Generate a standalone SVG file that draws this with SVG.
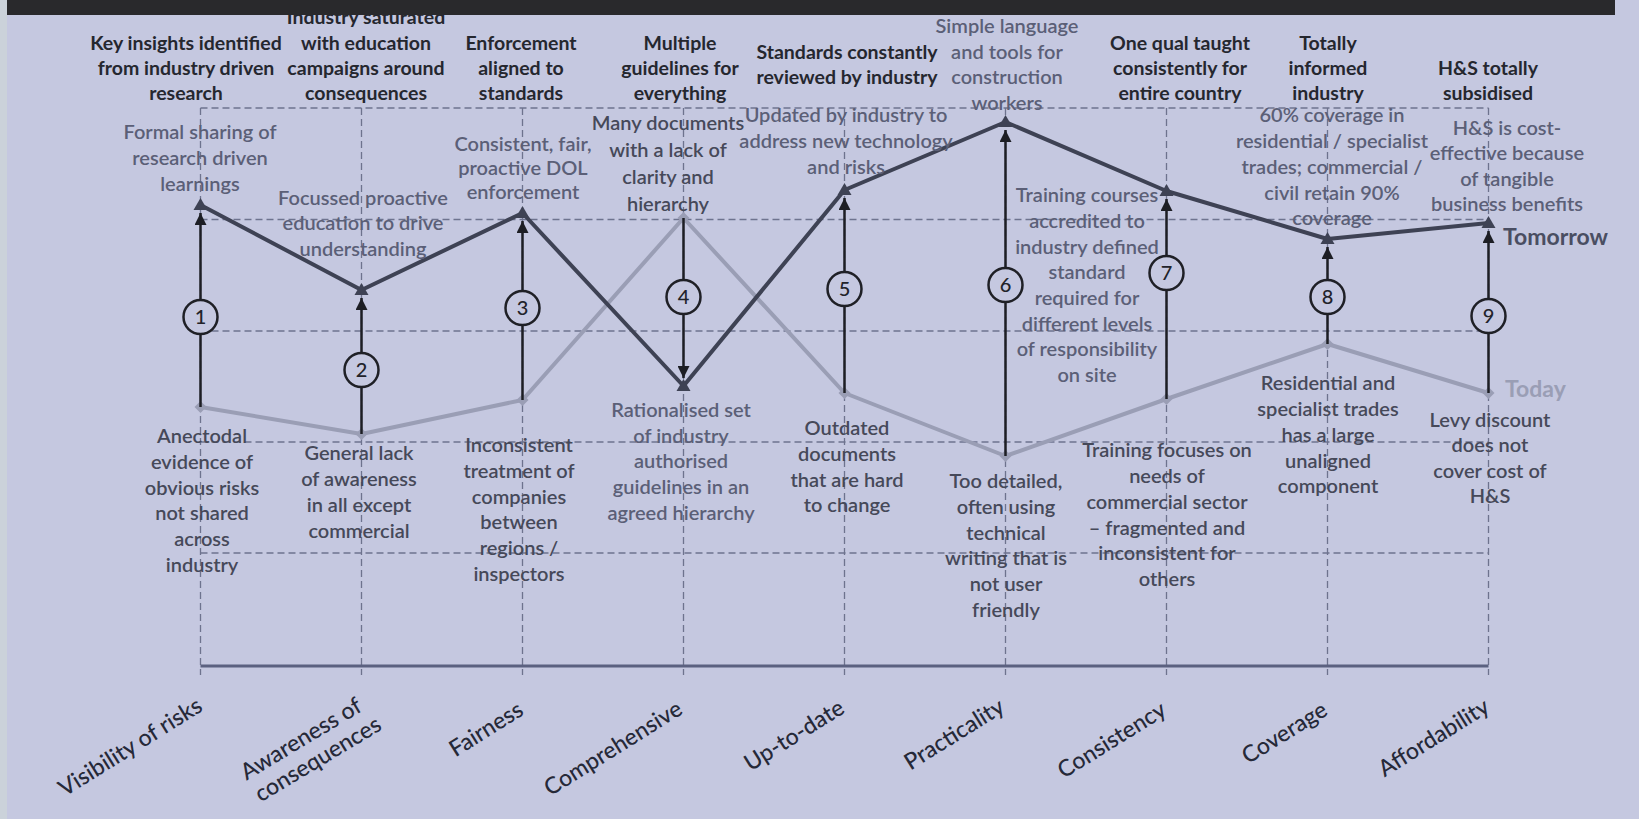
<svg xmlns="http://www.w3.org/2000/svg" width="1639" height="819" viewBox="0 0 1639 819">
<style>
text{font-family:Lato,"Noto Sans","Liberation Sans",sans-serif;text-anchor:middle}
.top{font-size:19.5px;font-weight:700;fill:#25272f}
.tm{font-size:20px;font-weight:600;fill:#5b5f77}
.td{font-size:20px;font-weight:600;fill:#464959}
.ax{font-size:23px;font-weight:500;fill:#262938;text-anchor:end}
.num{font-size:20px;font-weight:500;fill:#22232a}
.grid{stroke:#6e738e;stroke-width:1.3;stroke-dasharray:7 4;fill:none}
.today{stroke:#9a9eb5;stroke-width:4;fill:none;stroke-linejoin:round}
.tomorrow{stroke:#3e4254;stroke-width:4;fill:none;stroke-linejoin:round}
.arrow{stroke:#1d1e24;stroke-width:2.5;fill:none}
.circ{fill:#c5c8e0;stroke:#1f2026;stroke-width:2.5}
</style>
<defs>
<marker id="ah" markerUnits="userSpaceOnUse" markerWidth="12" markerHeight="12" viewBox="0 0 12 12" refX="12" refY="6" orient="auto"><path d="M0,0 L12,6 L0,12 z" fill="#1d1e24"/></marker>
<marker id="tri" markerUnits="userSpaceOnUse" markerWidth="16" markerHeight="16" viewBox="-8 -8 16 16" refX="0" refY="0" orient="0"><path d="M0,-7 L7,5 L-7,5 z" fill="#3e4254"/></marker>
<marker id="dia" markerUnits="userSpaceOnUse" markerWidth="14" markerHeight="14" viewBox="-7 -7 14 14" refX="0" refY="0" orient="0"><path d="M0,-6 L6,0 L0,6 L-6,0 z" fill="#9a9eb5"/></marker>
</defs>
<rect width="1639" height="819" fill="#c5c8e0"/>
<rect width="7" height="819" fill="#cbd2da"/>

<g id="grid">
<path class="grid" d="M200.5,108H1488.5M200.5,219.5H1488.5M200.5,331H1488.5M200.5,442H1488.5M200.5,553H1488.5"/>
<path class="grid" d="M200.5,108V675M361.5,108V675M522.5,108V675M683.5,108V675M844.5,108V675M1005.5,108V675M1166.5,108V675M1327.5,108V675M1488.5,108V675"/>
<line x1="200.5" y1="666" x2="1488.5" y2="666" stroke="#5b6180" stroke-width="3"/>
</g>

<g id="connectors">
<polyline class="today" marker-start="url(#dia)" marker-mid="url(#dia)" marker-end="url(#dia)" points="200.5,407 361.5,434 522.5,400 683.5,218 844.5,393 1005.5,456 1166.5,399 1327.5,344 1488.5,393"/>
<polyline class="tomorrow" points="200.5,205 361.5,290 522.5,213 683.5,386 844.5,190 1005.5,122 1166.5,191 1327.5,239 1488.5,223"/>
<line class="arrow" marker-end="url(#ah)" x1="200.5" y1="407" x2="200.5" y2="213"/>
<line class="arrow" marker-end="url(#ah)" x1="361.5" y1="434" x2="361.5" y2="298"/>
<line class="arrow" marker-end="url(#ah)" x1="522.5" y1="400" x2="522.5" y2="221"/>
<line class="arrow" marker-end="url(#ah)" x1="683.5" y1="218" x2="683.5" y2="378"/>
<line class="arrow" marker-end="url(#ah)" x1="844.5" y1="393" x2="844.5" y2="198"/>
<line class="arrow" marker-end="url(#ah)" x1="1005.5" y1="456" x2="1005.5" y2="130"/>
<line class="arrow" marker-end="url(#ah)" x1="1166.5" y1="399" x2="1166.5" y2="199"/>
<line class="arrow" marker-end="url(#ah)" x1="1327.5" y1="344" x2="1327.5" y2="247"/>
<line class="arrow" marker-end="url(#ah)" x1="1488.5" y1="393" x2="1488.5" y2="231"/>
<polyline fill="none" stroke="none" marker-start="url(#tri)" marker-mid="url(#tri)" marker-end="url(#tri)" points="200.5,205 361.5,290 522.5,213 683.5,386 844.5,190 1005.5,122 1166.5,191 1327.5,239 1488.5,223"/>
</g>

<g id="col1">
<text class="top"><tspan x="186" y="50">Key insights identified</tspan><tspan x="186" y="75">from industry driven</tspan><tspan x="186" y="100">research</tspan></text>
<text class="tm"><tspan x="200" y="139">Formal sharing of</tspan><tspan x="200" y="165">research driven</tspan><tspan x="200" y="191">learnings</tspan></text>
<text class="td"><tspan x="202" y="443">Anectodal</tspan><tspan x="202" y="469">evidence of</tspan><tspan x="202" y="495">obvious risks</tspan><tspan x="202" y="520">not shared</tspan><tspan x="202" y="546">across</tspan><tspan x="202" y="572">industry</tspan></text>
<circle class="circ" cx="200.5" cy="317" r="17"/><text class="num" x="200.5" y="324">1</text>
<text class="ax" transform="translate(204,710) rotate(-32)">Visibility of risks</text>
</g>

<g id="col2">
<text class="top"><tspan x="366" y="24">Industry saturated</tspan><tspan x="366" y="50">with education</tspan><tspan x="366" y="75">campaigns around</tspan><tspan x="366" y="100">consequences</tspan></text>
<text class="tm"><tspan x="363" y="205">Focussed proactive</tspan><tspan x="363" y="230">education to drive</tspan><tspan x="363" y="256">understanding</tspan></text>
<text class="td"><tspan x="359" y="460">General lack</tspan><tspan x="359" y="486">of awareness</tspan><tspan x="359" y="512">in all except</tspan><tspan x="359" y="538">commercial</tspan></text>
<circle class="circ" cx="361.5" cy="370" r="17"/><text class="num" x="361.5" y="377">2</text>
<text class="ax" style="text-anchor:middle" transform="translate(305,745.5) rotate(-31)"><tspan x="0" y="0">Awareness of</tspan><tspan x="4" y="26">consequences</tspan></text>
</g>

<g id="col3">
<text class="top"><tspan x="521" y="50">Enforcement</tspan><tspan x="521" y="75">aligned to</tspan><tspan x="521" y="100">standards</tspan></text>
<text class="tm"><tspan x="523" y="151">Consistent, fair,</tspan><tspan x="523" y="175">proactive DOL</tspan><tspan x="523" y="199">enforcement</tspan></text>
<text class="td"><tspan x="519" y="452">Inconsistent</tspan><tspan x="519" y="478">treatment of</tspan><tspan x="519" y="504">companies</tspan><tspan x="519" y="529">between</tspan><tspan x="519" y="555">regions /</tspan><tspan x="519" y="581">inspectors</tspan></text>
<circle class="circ" cx="522.5" cy="308" r="17"/><text class="num" x="522.5" y="315">3</text>
<text class="ax" transform="translate(525,714) rotate(-32)">Fairness</text>
</g>

<g id="col4">
<text class="top"><tspan x="680" y="50">Multiple</tspan><tspan x="680" y="75">guidelines for</tspan><tspan x="680" y="100">everything</tspan></text>
<text class="td"><tspan x="668" y="130">Many documents</tspan><tspan x="668" y="157">with a lack of</tspan><tspan x="668" y="184">clarity and</tspan><tspan x="668" y="211">hierarchy</tspan></text>
<text class="tm"><tspan x="681" y="417">Rationalised set</tspan><tspan x="681" y="443">of industry</tspan><tspan x="681" y="468">authorised</tspan><tspan x="681" y="494">guidelines in an</tspan><tspan x="681" y="520">agreed hierarchy</tspan></text>
<circle class="circ" cx="683.5" cy="297" r="17"/><text class="num" x="683.5" y="304">4</text>
<text class="ax" transform="translate(684,713) rotate(-32)">Comprehensive</text>
</g>

<g id="col5">
<text class="top"><tspan x="847" y="59">Standards constantly</tspan><tspan x="847" y="84">reviewed by industry</tspan></text>
<text class="tm"><tspan x="846" y="122">Updated by industry to</tspan><tspan x="846" y="148">address new technology</tspan><tspan x="846" y="174">and risks</tspan></text>
<text class="td"><tspan x="847" y="435">Outdated</tspan><tspan x="847" y="461">documents</tspan><tspan x="847" y="487">that are hard</tspan><tspan x="847" y="512">to change</tspan></text>
<circle class="circ" cx="844.5" cy="289" r="17"/><text class="num" x="844.5" y="296">5</text>
<text class="ax" transform="translate(846,712) rotate(-32)">Up-to-date</text>
</g>

<g id="col6">
<text class="tm"><tspan x="1007" y="33">Simple language</tspan><tspan x="1007" y="59">and tools for</tspan><tspan x="1007" y="84">construction</tspan><tspan x="1007" y="110">workers</tspan></text>
<text class="td"><tspan x="1006" y="488">Too detailed,</tspan><tspan x="1006" y="514">often using</tspan><tspan x="1006" y="540">technical</tspan><tspan x="1006" y="565">writing that is</tspan><tspan x="1006" y="591">not user</tspan><tspan x="1006" y="617">friendly</tspan></text>
<circle class="circ" cx="1005.5" cy="285" r="17"/><text class="num" x="1005.5" y="292">6</text>
<text class="ax" transform="translate(1006,711) rotate(-32)">Practicality</text>
</g>

<g id="col7">
<text class="top"><tspan x="1180" y="50">One qual taught</tspan><tspan x="1180" y="75">consistently for</tspan><tspan x="1180" y="100">entire country</tspan></text>
<text class="tm"><tspan x="1087" y="202">Training courses</tspan><tspan x="1087" y="228">accredited to</tspan><tspan x="1087" y="254">industry defined</tspan><tspan x="1087" y="279">standard</tspan><tspan x="1087" y="305">required for</tspan><tspan x="1087" y="331">different levels</tspan><tspan x="1087" y="356">of responsibility</tspan><tspan x="1087" y="382">on site</tspan></text>
<text class="td"><tspan x="1167" y="457">Training focuses on</tspan><tspan x="1167" y="483">needs of</tspan><tspan x="1167" y="509">commercial sector</tspan><tspan x="1167" y="535">– fragmented and</tspan><tspan x="1167" y="560">inconsistent for</tspan><tspan x="1167" y="586">others</tspan></text>
<circle class="circ" cx="1166.5" cy="273" r="17"/><text class="num" x="1166.5" y="280">7</text>
<text class="ax" transform="translate(1168,714) rotate(-32)">Consistency</text>
</g>

<g id="col8">
<text class="top"><tspan x="1328" y="50">Totally</tspan><tspan x="1328" y="75">informed</tspan><tspan x="1328" y="100">industry</tspan></text>
<text class="tm"><tspan x="1332" y="122">60% coverage in</tspan><tspan x="1332" y="148">residential / specialist</tspan><tspan x="1332" y="174">trades; commercial /</tspan><tspan x="1332" y="200">civil retain 90%</tspan><tspan x="1332" y="225">coverage</tspan></text>
<text class="td"><tspan x="1328" y="390">Residential and</tspan><tspan x="1328" y="416">specialist trades</tspan><tspan x="1328" y="442">has a large</tspan><tspan x="1328" y="468">unaligned</tspan><tspan x="1328" y="493">component</tspan></text>
<circle class="circ" cx="1327.5" cy="297" r="17"/><text class="num" x="1327.5" y="304">8</text>
<text class="ax" transform="translate(1329,714) rotate(-32)">Coverage</text>
</g>

<g id="col9">
<text class="top"><tspan x="1488" y="75">H&amp;S totally</tspan><tspan x="1488" y="100">subsidised</tspan></text>
<text class="tm"><tspan x="1507" y="135">H&amp;S is cost-</tspan><tspan x="1507" y="160">effective because</tspan><tspan x="1507" y="186">of tangible</tspan><tspan x="1507" y="211">business benefits</tspan></text>
<text class="td"><tspan x="1490" y="427">Levy discount</tspan><tspan x="1490" y="452">does not</tspan><tspan x="1490" y="478">cover cost of</tspan><tspan x="1490" y="503">H&amp;S</tspan></text>
<circle class="circ" cx="1488.5" cy="316" r="17"/><text class="num" x="1488.5" y="323">9</text>
<text class="ax" transform="translate(1491,711) rotate(-32)">Affordability</text>
</g>

<g id="legend">
<text x="1503" y="245" style="text-anchor:start;font-size:23px;font-weight:700;fill:#4a4e62">Tomorrow</text>
<text x="1505" y="397" style="text-anchor:start;font-size:23px;font-weight:700;fill:#9a9eb5">Today</text>
</g>

<rect id="header" x="7" y="0" width="1608" height="15" fill="#29292c"/>
</svg>
